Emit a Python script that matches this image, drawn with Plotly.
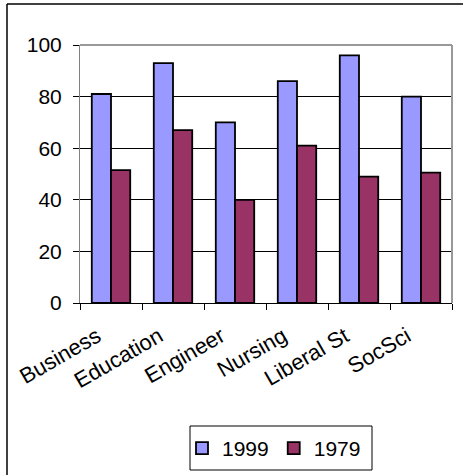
import plotly.graph_objects as go

categories = ["Business", "Education", "Engineer", "Nursing", "Liberal St", "SocSci"]
values_1999 = [81, 93, 70, 86, 96, 80]
values_1979 = [51.5, 67, 40, 61, 49, 50.5]

W, H = 463, 475
L, R, T, B = 80, 11, 45, 172
pw, ph = W - L - R, H - T - B

def px_x(x):
    return (x - L) / pw

def px_y(y):
    return (H - B - y) / ph

font = dict(family="Liberation Sans, Arial, sans-serif", size=21, color="black")
xfont = dict(family="Liberation Sans, Arial, sans-serif", size=22, color="black")

fig = go.Figure()
fig.add_trace(go.Bar(name="1999", x=categories, y=values_1999,
                     marker=dict(color="#9999FF", line=dict(color="black", width=1.8))))
fig.add_trace(go.Bar(name="1979", x=categories, y=values_1979,
                     marker=dict(color="#993366", line=dict(color="black", width=1.8))))

fig.update_layout(
    width=W, height=H,
    margin=dict(l=L, r=R, t=T, b=B, pad=0, autoexpand=False),
    paper_bgcolor="white", plot_bgcolor="white",
    font=font,
    barmode="group", bargap=0.38, bargroupgap=0,
    showlegend=True,
    legend=dict(orientation="h", x=px_x(182), y=px_y(428), xanchor="left", yanchor="top",
                borderwidth=0, bgcolor="rgba(0,0,0,0)", font=font,
                itemwidth=30, tracegroupgap=0),
    xaxis=dict(showgrid=False, showline=True, linecolor="black", linewidth=1,
               ticks="outside", tickson="boundaries", ticklen=6, tickcolor="black",
               tickangle=-30, tickfont=xfont, automargin=False,
               ticklabelshift=-14, ticklabelstandoff=11),
    yaxis=dict(range=[0, 100], dtick=20, showgrid=True, gridcolor="black", gridwidth=1,
               showline=True, linecolor="#808080", linewidth=1,
               ticks="outside", ticklen=6, tickcolor="black", tickfont=font,
               zeroline=False, automargin=False, ticklabelstandoff=7),
    shapes=[
        dict(type="line", xref="paper", yref="paper", x0=0, x1=1, y0=1, y1=1,
             line=dict(color="#999999", width=2)),
        dict(type="line", xref="paper", yref="paper", x0=1, x1=1, y0=0, y1=1,
             line=dict(color="#999999", width=2)),
        dict(type="line", xref="paper", yref="paper", x0=px_x(7), x1=px_x(470),
             y0=px_y(4), y1=px_y(4), line=dict(color="black", width=1.5)),
        dict(type="line", xref="paper", yref="paper", x0=px_x(7), x1=px_x(7),
             y0=px_y(4), y1=px_y(480), line=dict(color="black", width=1.5)),
        dict(type="rect", xref="paper", yref="paper", x0=px_x(190), x1=px_x(372),
             y0=px_y(426), y1=px_y(470), line=dict(color="black", width=1)),
    ],
)

fig.write_html("out.html", config={"displayModeBar": False},
               post_script="document.body.style.margin='0';")
